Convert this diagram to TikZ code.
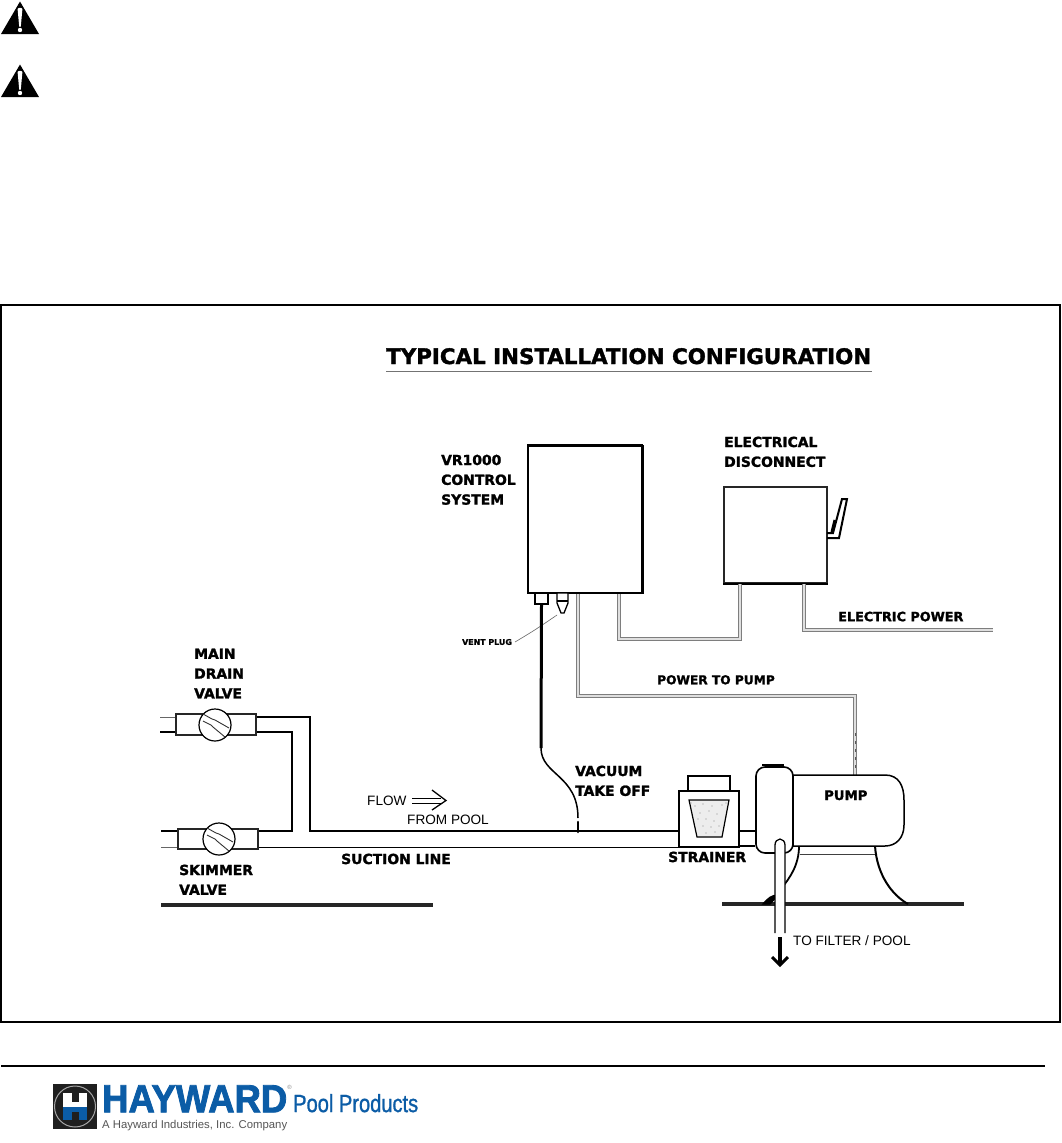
\documentclass[tikz,border=0pt]{standalone}
\usepackage{fontspec}
\usepackage{graphicx}
\setmainfont{Liberation Sans}
\newfontfamily\labfnt{DejaVu Sans}[BoldFeatures={FakeBold=1.6}]
\newfontfamily\logofnt{Liberation Sans}[BoldFeatures={FakeBold=2.2}]
\newfontfamily\poolfnt{Liberation Sans}[FakeBold=1.2]
\definecolor{hayblue}{HTML}{0B5CA6}
\definecolor{haygrey}{HTML}{555555}
\definecolor{wirec}{HTML}{7E7E7E}
\tikzset{
  lab/.style={inner sep=0pt,anchor=north west,align=left,font=\labfnt\bfseries\fontsize{13.9}{19.8}\selectfont},
  plain/.style={inner sep=0pt,anchor=base west,font=\fontsize{13.6}{16}\selectfont},
  pipe/.style={draw=black,line width=1.1pt,line join=miter},
  wire/.style={draw=wirec,line width=1.3pt,double=white!75!wirec,double distance=1.5pt,line join=miter},
  ground/.style={draw=black!85,line width=3.6pt},
  boxx/.style={draw=black,line width=1.5pt,fill=white,inner sep=0pt},
  valvebody/.style={draw=black!85,line width=1.8pt,fill=white,inner sep=0pt},
}
\newcommand{\valveface}[2]{%
  \begin{scope}[shift={(#1,#2)}]
    \draw[black,line width=1.2pt,fill=white] (0,0) circle[radius=16pt];
    \draw[black!80,line width=.9pt] (-12,-11) -- (-3,-6) -- (0,-5) -- (14,3);
    \draw[black!80,line width=.9pt] (-12,-4) -- (-4,0) -- (-2,2) -- (10,12);
  \end{scope}}
\begin{document}
\begin{tikzpicture}[x=1pt,y=-1pt]
\useasboundingbox (0,0) rectangle (1062,1143);
\fill[white] (0,0) rectangle (1062,1143);

% warning triangles
\foreach \dy/\nm in {0/a,63/b}{
  \begin{scope}[shift={(0,\dy)}]
    \fill[black] (20,1.5) -- (39,34) -- (1,34) -- cycle;
    \fill[white] (17.6,9) .. controls (18,7.5) and (22,7.5) .. (22.4,9) -- (20.8,26.5) -- (19.2,26.5) -- cycle;
    \fill[white] (20,30) circle[radius=2.2pt];
  \end{scope}}

% frame
\node[draw=black,line width=1.6pt,minimum width=1059pt,minimum height=717pt,inner sep=0pt] (frame) at (530.5,663.5) {};

% title
\node[inner sep=0pt,anchor=base west,font=\labfnt\bfseries\fontsize{19}{22}\selectfont] (title) at (386,364) {\resizebox{485pt}{!}{TYPICAL INSTALLATION CONFIGURATION}};
\coordinate (tuL) at (386,371); \coordinate (tuR) at (872,371);
\draw[black!55,line width=1pt] (tuL) -- (tuR);

% control box
\node[boxx,minimum width=114pt,minimum height=147pt] (ctrl) at (585,519.5) {};
\draw[black,line width=3pt] (ctrl.north west) -- (ctrl.north east);
\draw[black,line width=2.2pt] (ctrl.north east) -- (ctrl.south east);
% fitting + plug
\node[draw=black,line width=1.3pt,fill=white,minimum width=13pt,minimum height=11pt,inner sep=0pt] (fit) at (541.5,598.5) {};
\draw[black,line width=1.3pt,fill=white] (557,593) -- (568,593) -- (568,603) -- (564,613) -- (561,613) -- (557,603) -- cycle;
\coordinate (plugtip) at (557,615);
\draw[black,line width=1.1pt] (557,601) -- (568,601);
\node[inner sep=0pt,font=\labfnt\bfseries\fontsize{7.9}{9}\selectfont] (ventlab) at (487,642) {VENT PLUG};
\draw[black!60,line width=.6pt] (ventlab.east) ++(3,0) .. controls (535,630) .. (plugtip);

% disconnect
\node[boxx,draw=black!85,minimum width=103pt,minimum height=96pt] (disc) at (775.5,535) {};
\draw[black,line width=2.2pt] (disc.south west) -- (disc.south east);
\draw[black,line width=2pt,line join=miter] (827,533) -- (833,533) -- (842,499) -- (847,499) -- (839,538) -- (827,538);
\draw[black,line width=3pt] (835,520) -- (832,532);

% wires
\coordinate (w1a) at (578,696); \coordinate (w1b) at (855,696); \coordinate (pumpin) at (855,775);
\draw[wire] (ctrl.south -| w1a) -- (w1a) -- (w1b) -- (pumpin);
\draw[black!65,line width=1pt,dash pattern=on 3pt off 5pt] (855,733) -- (855,772);
\coordinate (w2a) at (619,639); \coordinate (w2b) at (740,639);
\draw[wire] (ctrl.south -| w2a) -- (w2a) -- (w2b) -- (disc.south -| w2b);
\coordinate (w3a) at (804,630); \coordinate (w3b) at (993,630);
\draw[wire] (disc.south -| w3a) -- (w3a) -- (w3b);

% ground
\coordinate (g1) at (161,905); \coordinate (g2) at (433,905);
\coordinate (g3) at (722,904); \coordinate (g4) at (964,904);
\draw[ground] (g1) -- (g2);
\draw[ground] (g3) -- (g4);

% piping
\coordinate (p1) at (310,717); \coordinate (p2) at (310,831);
\coordinate (p3) at (292,732); \coordinate (p4) at (292,831);
\coordinate (mL1) at (160,717); \coordinate (mL2) at (160,732);
\coordinate (sL1) at (161,831); \coordinate (sL2) at (161,847);
\node[valvebody,minimum width=80pt,minimum height=21pt] (mainv) at (216,724.5) {};
\node[valvebody,minimum width=80pt,minimum height=20pt] (skimv) at (218,839) {};
\draw[pipe,line width=.8pt,black!60] (mL1) -- (mL1 -| mainv.west);
\draw[pipe] (mL2) -- (mL2 -| mainv.west);
\draw[pipe] (sL1) -- (sL1 -| skimv.west);
\draw[pipe,line width=.8pt,black!60] (sL2) -- (sL2 -| skimv.west);
\valveface{215}{725}
\valveface{219}{839}
\node[boxx,line width=1.8pt,minimum width=60pt,minimum height=56pt] (strain) at (709,819) {};
\draw[pipe] (mainv.east |- p1) -- (p1) -- (p2) -- (strain.west |- p2);
\draw[pipe] (mainv.east |- p3) -- (p3) -- (p4) -- (skimv.east |- p4);
\draw[pipe,line width=.9pt] (skimv.east |- sL2) -- (strain.west |- sL2);

% flow arrow
\coordinate (fa) at (412,798); \coordinate (fb) at (412,803);
\draw[black,line width=1pt] (fa) -- (441,798);
\draw[black,line width=1pt] (fb) -- (441,803);
\draw[black,line width=1.3pt] (432,790) -- (446,800.5) -- (432,810);

% vacuum tube
\coordinate (tk) at (578,832);
\draw[black,line width=3pt] (fit.south) -- (541,748);
\draw[black,line width=1.5pt] (541,748) .. controls (541,775) and (578,775) .. (578,818);
\draw[black,line width=2.6pt,line cap=round] (578,822) -- (tk);

% strainer
\node[draw=black,line width=1.4pt,fill=white,minimum width=42pt,minimum height=15pt,inner sep=0pt] (scap) at (709,783.5) {};
\draw[black,line width=1.2pt,fill=black!7] (689,800) -- (729,800) -- (722,837) -- (697,837) -- cycle;
\foreach \px/\py in {695/806,703/804,712/806,722/805,700/813,709/811,717/814,698/819,706/819,714/821,703/826,711/827,719/826,706/833,715/832,691/803,726/803}
  \fill[black!45] (\px,\py) circle[radius=.6pt];
\coordinate (c1) at (739,831); \coordinate (c2) at (739,846);

% feet
\draw[black,line width=1.8pt] (799,846) .. controls (799,865) and (790,878) .. (780,890);
\draw[black,line width=1.3pt,fill=black] (763,904) .. controls (768,898) and (772,895) .. (778,895) -- (770,904) -- cycle;
\draw[black,line width=2pt] (875,846) .. controls (877,875) and (892,895) .. (908,904);
\draw[black!75,line width=1.2pt] (800,854.5) -- (875,854.5);

% motor
\draw[black,line width=1.5pt,fill=white] (793,775) -- (885,775) .. controls (899,775) and (904,786) .. (904,800) -- (904,825) .. controls (904,838) and (896,846) .. (885,846) -- (793,846) -- cycle;
\node[inner sep=0pt,font=\labfnt\bfseries\fontsize{13.2}{15}\selectfont,anchor=base west] (pump) at (824,800) {PUMP};

% volute
\node[draw=black,line width=1.6pt,fill=white,rounded corners=9pt,minimum width=37pt,minimum height=86pt,inner sep=0pt] (vol) at (774.5,810) {};
\draw[black,line width=2.4pt] (762,765) -- (784,765);
\draw[black,line width=2.4pt] (793,778) -- (793,845);
\draw[pipe] (c1) -- (c1 -| vol.west);
\draw[pipe] (c2) -- (c2 -| vol.west);

% outlet
\coordinate (ol) at (775,933); \coordinate (or) at (785,933);
\fill[white] (775,933) -- (775,845) arc[start angle=180,end angle=360,x radius=5pt,y radius=-6pt] -- (785,933) -- cycle;
\draw[black,line width=1.3pt] (ol) -- (775,845) arc[start angle=180,end angle=360,x radius=5pt,y radius=-6pt] -- (or);
\coordinate (arrS) at (780,937); \coordinate (arrE) at (780,967);
\draw[black,line width=3.6pt] (arrS) -- (780,965);
\draw[black,line width=3pt,line join=miter] (772,957) -- (780,965) -- (788,957);

% labels
\node[lab] (lmain) at (194,648.5) {MAIN\\DRAIN\\VALVE};
\node[lab] (lskim) at (179,864.5) {SKIMMER\\VALVE};
\node[lab] (lsuct) at (341,853.5) {SUCTION LINE};
\node[lab] (lvac) at (575,765.5) {VACUUM\\TAKE OFF};
\node[lab] (lstr) at (668,851.5) {STRAINER};
\node[lab] (lvr) at (441,454.5) {VR1000\\CONTROL\\SYSTEM};
\node[lab] (lel) at (724,436.5) {ELECTRICAL\\DISCONNECT};
\node[lab,font=\labfnt\bfseries\fontsize{12.8}{19}\selectfont] (lep) at (838,611.5) {ELECTRIC POWER};
\node[lab,font=\labfnt\bfseries\fontsize{12.2}{14}\selectfont] (lpw) at (657,675) {POWER TO PUMP};
\node[plain] (lflow) at (367,805) {FLOW};
\node[plain] (lfrom) at (407,824) {FROM POOL};
\node[plain] (lfilt) at (793,945) {TO FILTER / POOL};

% footer
\coordinate (fl) at (1,1065.5); \coordinate (fr) at (1045,1065.5);
\draw[black,line width=2pt] (fl) -- (fr);

% logo
\node[fill=black!88,minimum width=44pt,minimum height=45pt,inner sep=0pt] (logo) at (75,1106.5) {};
\draw[black!35,line width=1pt] (75,1106.5) circle[radius=20.5pt];
\fill[white] (63,1093) rectangle (87,1107);
\fill[hayblue] (63,1107) rectangle (87,1120);
\fill[black!88] (71.5,1093) rectangle (78.5,1102);
\fill[black!88] (71.5,1112) rectangle (78.5,1120);
\node[inner sep=0pt,anchor=south west,text=hayblue,font=\logofnt\bfseries] (hay) at (102,1112.5) {\resizebox{185pt}{27pt}{HAYWARD}};
\node[inner sep=0pt,text=black!45,font=\fontsize{6}{6}\selectfont] (hayr) at (289.5,1087.5) {®};
\node[inner sep=0pt,anchor=south west,text=hayblue,font=\poolfnt] (pool) at (293,1112.5) {\resizebox{125pt}{18pt}{Pool Products}};
\node[inner sep=0pt,anchor=base west,text=haygrey] (hayc) at (102,1128) {\resizebox{185pt}{!}{A Hayward Industries, Inc. Company}};
\end{tikzpicture}
\end{document}
